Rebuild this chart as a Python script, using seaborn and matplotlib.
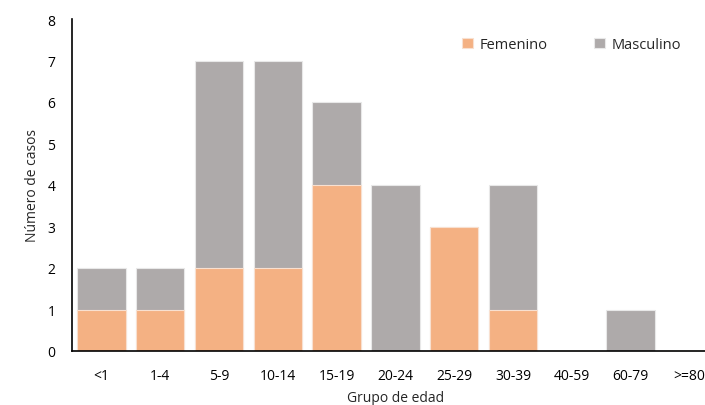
import matplotlib
matplotlib.use("Agg")
import matplotlib.pyplot as plt
import seaborn as sns
import pandas as pd
import numpy as np

grupos = ["<1", "1-4", "5-9", "10-14", "15-19", "20-24", "25-29", "30-39", "40-59", "60-79", ">=80"]
femenino = [1, 1, 2, 2, 4, 0, 3, 1, 0, 0, 0]
masculino = [1, 1, 5, 5, 2, 4, 0, 3, 0, 1, 0]

df = pd.DataFrame({"grupo": grupos, "Femenino": femenino, "Masculino": masculino})
df["total"] = df["Femenino"] + df["Masculino"]

sns.set_style("white")
plt.rcParams["font.family"] = ["Open Sans", "DejaVu Sans"]

fig = plt.figure(figsize=(7.05, 4.06), dpi=100)
ax = fig.add_axes([72 / 705, 54 / 406, 11 * 58.8 / 705, 332 / 406])

col_f = "#F4B183"
col_m = "#AEAAAA"

# masculino stacked on top: draw total first, then femenino over it
sns.barplot(data=df, x="grupo", y="total", color=col_m, width=0.82,
            edgecolor="#e8e8e8", linewidth=0.8, ax=ax, label="Masculino", saturation=1)
sns.barplot(data=df, x="grupo", y="Femenino", color=col_f, width=0.82,
            edgecolor="#f8e0d0", linewidth=0.8, ax=ax, label="Femenino", saturation=1)

ax.set_ylim(0, 8)
ax.set_xlim(-0.5, 10.5)
ax.set_yticks(range(0, 9))
ax.tick_params(axis="both", length=0, labelsize=10, colors="#000000")
ax.tick_params(axis="y", pad=12)
ax.tick_params(axis="x", pad=12)
ax.set_xlabel("Grupo de edad", fontsize=10, labelpad=5)
ax.set_ylabel("Número de casos", fontsize=10, labelpad=5)

for s in ["top", "right"]:
    ax.spines[s].set_visible(False)
for s in ["left", "bottom"]:
    ax.spines[s].set_color("#000000")
    ax.spines[s].set_linewidth(1.2)

h, l = ax.get_legend_handles_labels()
order = [l.index("Femenino"), l.index("Masculino")]
ax.legend([h[i] for i in order], [l[i] for i in order], ncol=2, frameon=False,
          loc="upper left", bbox_to_anchor=(449 / 705, 1 - 25 / 406), bbox_transform=fig.transFigure,
          fontsize=10.5, handlelength=0.75, handleheight=0.75, columnspacing=3.2, handletextpad=0.45)

fig.savefig("out.png", dpi=100)
